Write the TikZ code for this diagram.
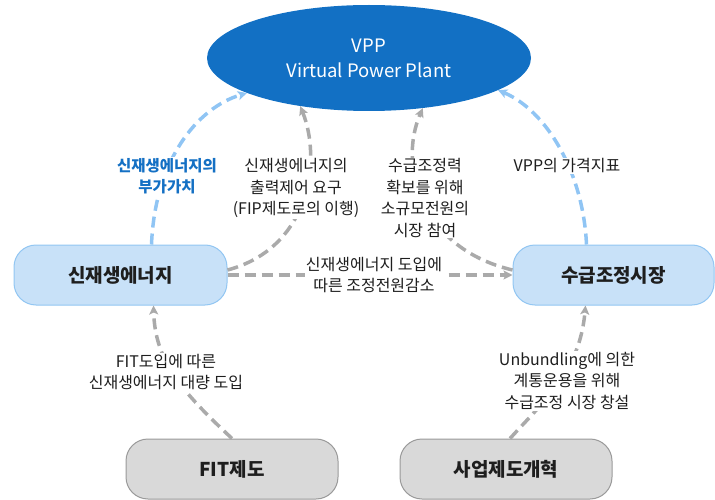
\documentclass[tikz,border=0pt]{standalone}
\usepackage{fontspec}
\setmainfont{Noto Sans CJK KR}
\usetikzlibrary{arrows.meta,shapes.geometric}
\definecolor{vppblue}{HTML}{1270C4}
\definecolor{lblue}{HTML}{C8E1F8}
\definecolor{lblueline}{HTML}{92C6F2}
\definecolor{arrblue}{HTML}{90C5F4}
\definecolor{gfill}{HTML}{D9D9D9}
\definecolor{gline}{HTML}{9A9A9A}
\definecolor{garr}{HTML}{AAAAAA}
\definecolor{labblue}{HTML}{1470C4}
\definecolor{txt}{HTML}{1E1E1E}
\begin{document}
\begin{tikzpicture}[x=1pt,y=-1pt,
  boxbase/.style={line width=1pt, rounded corners=22pt, minimum height=60pt,
    inner sep=0pt, text=txt, font=\fontsize{19}{22}\selectfont\bfseries},
  bluebox/.style={boxbase, draw=lblueline, fill=lblue},
  graybox/.style={boxbase, draw=gline, fill=gfill},
  lab/.style={fill=white, inner sep=1pt, align=center, text=txt,
    font=\fontsize{16}{21.5}\selectfont},
  arrbase/.style={line width=3.5pt, dash pattern=on 11pt off 6pt,
    -{Stealth[length=9pt,width=9pt,inset=2pt]}},
  blarr/.style={arrbase, draw=arrblue, color=arrblue},
  grarr/.style={arrbase, draw=garr, color=garr}
]
\useasboundingbox (0,0) rectangle (715,500);

% nodes
\node[ellipse, fill=vppblue, minimum width=324pt, minimum height=106pt, inner sep=0pt,
  text=white, align=center, font=\fontsize{18.5}{25}\selectfont] (vpp) at (369,58)
  {VPP\\Virtual Power Plant};
\node[bluebox, minimum width=213pt] (ren) at (120.5,275) {신재생에너지};
\node[bluebox, minimum width=201pt] (mkt) at (613.5,275) {수급조정시장};
\node[graybox, minimum width=212pt] (fit) at (232,469) {FIT제도};
\node[graybox, minimum width=212pt] (ref) at (506,469) {사업제도개혁};

% connectors
\draw[blarr] ([xshift=31pt]ren.north) .. controls (155,160) and (197,108) .. (vpp.196);
\draw[grarr] ([yshift=5pt]ren.east) .. controls (310,248) and (322,160) .. (vpp.215);
\draw[grarr] (ren.east) -- (mkt.west);
\draw[grarr] ([yshift=5pt]mkt.west) .. controls (420,248) and (398,165) .. (vpp.317);
\draw[blarr] ([xshift=-27pt]mkt.north) .. controls (583,170) and (545,110) .. (vpp.346);
\draw[grarr] ([xshift=0pt]fit.north) .. controls (180,390) and (155,360) .. ([xshift=33pt]ren.south);
\draw[grarr] ([xshift=4pt]ref.north) .. controls (545,400) and (580,370) .. ([xshift=-28pt]mkt.south);

% labels
\node[lab, text=labblue, font=\fontsize{15.5}{21.5}\selectfont\bfseries] (l1) at (167,176) {신재생에너지의\\부가가치};
\node[lab] (l2) at (296,188) {신재생에너지의\\출력제어 요구\\(FIP제도로의 이행)};
\node[lab] (l3) at (425,198) {수급조정력\\확보를 위해\\소규모전원의\\시장 참여};
\node[lab] (l4) at (567,166) {VPP의 가격지표};
\node[lab] (l5) at (374,275) {신재생에너지 도입에\\따른 조정전원감소};
\node[lab] (l6) at (166,372) {FIT도입에 따른\\신재생에너지 대량 도입};
\node[lab] (l7) at (567,381) {Unbundling에 의한\\계통운용을 위해\\수급조정 시장 창설};
\end{tikzpicture}
\end{document}
